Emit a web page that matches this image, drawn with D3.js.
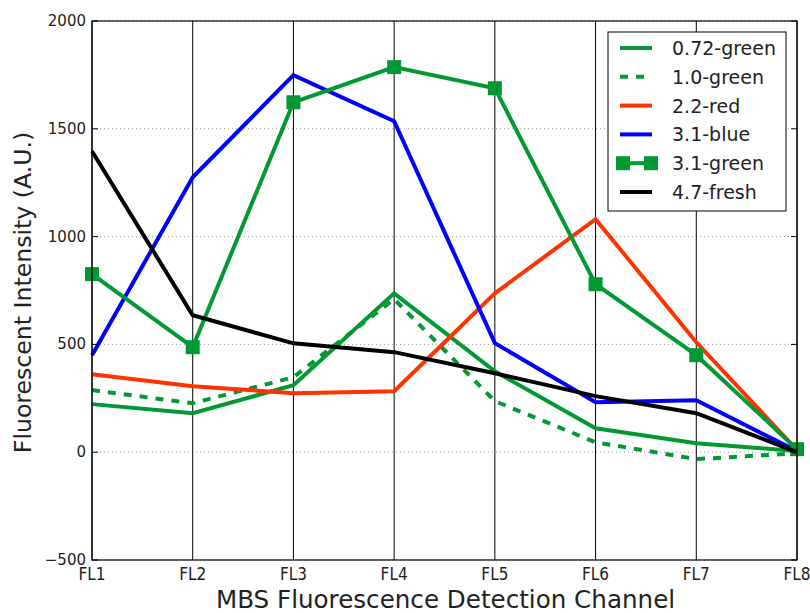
<!DOCTYPE html>
<html>
<head>
<meta charset="UTF-8">
<script src="https://d3js.org/d3.v7.min.js"></script>
<style>
  body { margin: 0; background: #fff; }
  text { font-family: "DejaVu Sans", sans-serif; fill: #222; }
  .cond { font-family: "DejaVu Sans Condensed", "DejaVu Sans", sans-serif; font-stretch: condensed; }
</style>
</head>
<body>
<div id="chart"></div>
<script>
// channels and series values
var channels = ["FL1", "FL2", "FL3", "FL4", "FL5", "FL6", "FL7", "FL8"];
var yTicks = [-500, 0, 500, 1000, 1500, 2000];
var green072 = [223, 181, 311, 737, 375, 111, 42, 5];
var green10 = [288, 227, 348, 710, 237, 46, -32, -5];
var red22 = [362, 306, 274, 283, 737, 1081, 510, 10];
var blue31 = [450, 1275, 1749, 1535, 506, 232, 241, 5];
var green31 = [826, 487, 1623, 1786, 1688, 779, 450, 14];
var fresh47 = [1396, 635, 505, 464, 366, 260, 181, 0];

var series = [
  { name: "0.72-green", values: green072, color: "#009933", dash: null, marker: false },
  { name: "1.0-green", values: green10, color: "#009933", dash: "8,8", marker: false },
  { name: "2.2-red", values: red22, color: "#ff3300", dash: null, marker: false },
  { name: "3.1-blue", values: blue31, color: "#0000ff", dash: null, marker: false },
  { name: "3.1-green", values: green31, color: "#009933", dash: null, marker: true },
  { name: "4.7-fresh", values: fresh47, color: "#000000", dash: null, marker: false }
];

var W = 810, H = 613;
var m = { left: 92, top: 21, right: 13, bottom: 53 };
var w = W - m.left - m.right, h = H - m.top - m.bottom;

var svg = d3.select("#chart").append("svg").attr("width", W).attr("height", H);
var g = svg.append("g").attr("transform", "translate(" + m.left + "," + m.top + ")");

var x = d3.scalePoint().domain(channels).range([0, w]);
var y = d3.scaleLinear().domain([-500, 2000]).range([h, 0]);

// horizontal dotted grid
g.selectAll(".hgrid").data(yTicks).enter().append("line")
  .attr("x1", 0).attr("x2", w)
  .attr("y1", function(d) { return y(d); }).attr("y2", function(d) { return y(d); })
  .attr("stroke", "#999").attr("stroke-width", 1).attr("stroke-dasharray", "1,3");

// vertical solid grid
g.selectAll(".vgrid").data(channels).enter().append("line")
  .attr("x1", function(d) { return x(d); }).attr("x2", function(d) { return x(d); })
  .attr("y1", 0).attr("y2", h)
  .attr("stroke", "#000").attr("stroke-width", 1);

// lines
var line = d3.line()
  .x(function(d, i) { return x(channels[i]); })
  .y(function(d) { return y(d); });

series.forEach(function(s) {
  g.append("path").datum(s.values)
    .attr("d", line)
    .attr("fill", "none")
    .attr("stroke", s.color)
    .attr("stroke-width", 4)
    .attr("stroke-linejoin", "miter")
    .attr("stroke-dasharray", s.dash);
  if (s.marker) {
    g.selectAll(".mk").data(s.values).enter().append("rect")
      .attr("x", function(d, i) { return x(channels[i]) - 7; })
      .attr("y", function(d) { return y(d) - 7; })
      .attr("width", 14).attr("height", 14)
      .attr("fill", s.color);
  }
});

// frame
g.append("rect").attr("x", 0).attr("y", 0).attr("width", w).attr("height", h)
  .attr("fill", "none").attr("stroke", "#000").attr("stroke-width", 1.2);

// ticks (inward) on left/right
yTicks.forEach(function(t) {
  g.append("line").attr("x1", 0).attr("x2", 6).attr("y1", y(t)).attr("y2", y(t)).attr("stroke", "#000");
  g.append("line").attr("x1", w - 6).attr("x2", w).attr("y1", y(t)).attr("y2", y(t)).attr("stroke", "#000");
});

// y tick labels
g.selectAll(".ylab").data(yTicks).enter().append("text")
  .attr("x", -6).attr("y", function(d) { return y(d) + 5; })
  .attr("text-anchor", "end").style("font-size", "15px")
  .text(function(d) { return d < 0 ? "\u2212" + Math.abs(d) : d; });

// x tick labels
g.selectAll(".xlab").data(channels).enter().append("text")
  .attr("class", "cond")
  .attr("x", function(d) { return x(d); }).attr("y", h + 20)
  .attr("text-anchor", "middle").style("font-size", "17px")
  .text(function(d) { return d; });

// axis titles
svg.append("text")
  .attr("x", m.left + w / 2 + 1).attr("y", 608)
  .attr("text-anchor", "middle").style("font-size", "24.6px")
  .text("MBS Fluorescence Detection Channel");

svg.append("text")
  .attr("transform", "translate(31," + (m.top + h / 2 + 2) + ") rotate(-90)")
  .attr("text-anchor", "middle").style("font-size", "23.6px")
  .text("Fluorescent Intensity (A.U.)");

// legend
var lg = svg.append("g").attr("transform", "translate(608,32)");
lg.append("rect").attr("width", 178).attr("height", 179)
  .attr("fill", "#fff").attr("stroke", "#000").attr("stroke-width", 1);
series.forEach(function(s, i) {
  var ry = 16 + i * 28.8;
  lg.append("line").attr("x1", 12).attr("x2", 44).attr("y1", ry).attr("y2", ry)
    .attr("stroke", s.color).attr("stroke-width", 4).attr("stroke-dasharray", s.dash);
  if (s.marker) {
    [15, 43].forEach(function(px) {
      lg.append("rect").attr("x", px - 7).attr("y", ry - 7).attr("width", 14).attr("height", 14).attr("fill", s.color);
    });
  }
  lg.append("text").attr("x", 64).attr("y", ry + 7).style("font-size", "19px").text(s.name);
});
</script>
</body>
</html>
